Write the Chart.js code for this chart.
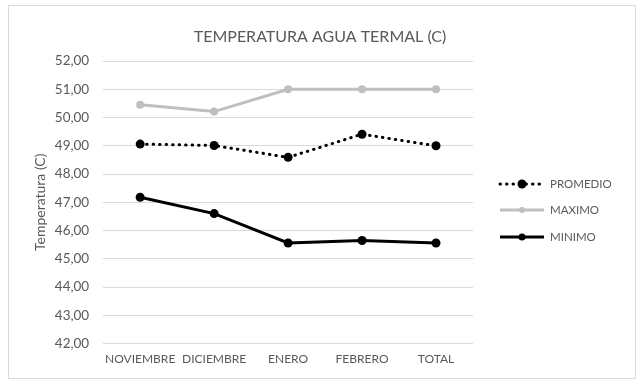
<!DOCTYPE html>
<html><head><meta charset="utf-8">
<script src="https://cdn.jsdelivr.net/npm/chart.js@4/dist/chart.umd.min.js"></script>
<style>html,body{margin:0;padding:0;background:#fff}#wrap{position:relative;width:641px;height:388px}</style>
</head><body><div id="wrap"><canvas id="c" width="641" height="388"></canvas></div>
<script>
const categories = ['NOVIEMBRE', 'DICIEMBRE', 'ENERO', 'FEBRERO', 'TOTAL'];
const promedio = [49.06, 49.01, 48.59, 49.41, 49.0];
const maximo = [50.45, 50.21, 51.0, 51.0, 51.0];
const minimo = [47.18, 46.6, 45.56, 45.65, 45.56];
const seriesNames = ['PROMEDIO', 'MAXIMO', 'MINIMO'];
const yMin = 42, yMax = 52, yStep = 1;
const titleText = 'TEMPERATURA AGUA TERMAL (C)';
const yTitle = 'Temperatura (C)';

const FONT = 'Lato, "Open Sans", sans-serif';
const TXT = '#595959';

const frame = {
  id: 'frame',
  beforeDraw(chart) {
    const ctx = chart.ctx;
    ctx.save();
    ctx.fillStyle = '#fff';
    ctx.fillRect(0, 0, chart.width, chart.height);
    ctx.strokeStyle = '#d9d9d9';
    ctx.lineWidth = 1;
    ctx.strokeRect(8.5, 5.5, 627, 373);
    ctx.fillStyle = TXT;
    ctx.font = '16px ' + FONT;
    ctx.textAlign = 'center';
    ctx.textBaseline = 'middle';
    ctx.fillText(titleText, 320, 37);
    ctx.restore();
  }
};

const legendPlugin = {
  id: 'customLegend',
  afterDraw(chart) {
    const ctx = chart.ctx;
    const x0 = 500, x1 = 544, ys = [184, 210, 237];
    chart.data.datasets.forEach((ds, i) => {
      const y = ys[i];
      ctx.save();
      ctx.strokeStyle = ds.borderColor;
      ctx.lineWidth = ds.borderWidth;
      ctx.lineCap = ds.borderCapStyle || 'butt';
      ctx.setLineDash(ds.borderDash || []);
      ctx.beginPath();
      ctx.moveTo(x0, y);
      ctx.lineTo(x1, y);
      ctx.stroke();
      ctx.setLineDash([]);
      ctx.fillStyle = ds.pointBackgroundColor;
      ctx.beginPath();
      ctx.arc((x0 + x1) / 2, y, ds.pointRadius - (i === 0 ? 0 : 1), 0, Math.PI * 2);
      ctx.fill();
      ctx.fillStyle = TXT;
      ctx.font = '11.5px ' + FONT;
      ctx.textBaseline = 'middle';
      ctx.fillText(ds.label, x1 + 6, y);
      ctx.restore();
    });
  }
};

new Chart(document.getElementById('c'), {
  type: 'line',
  data: {
    labels: categories,
    datasets: [
      { label: seriesNames[0], data: promedio, borderColor: '#000', backgroundColor: '#000',
        borderWidth: 3, borderDash: [0.5, 6], borderCapStyle: 'round',
        pointRadius: 4.5, pointBackgroundColor: '#000', pointBorderWidth: 0, tension: 0 },
      { label: seriesNames[1], data: maximo, borderColor: '#bfbfbf', backgroundColor: '#bfbfbf',
        borderWidth: 3, pointRadius: 4, pointBackgroundColor: '#bfbfbf', pointBorderWidth: 0, tension: 0 },
      { label: seriesNames[2], data: minimo, borderColor: '#000', backgroundColor: '#000',
        borderWidth: 3, pointRadius: 4.5, pointBackgroundColor: '#000', pointBorderWidth: 0, tension: 0 }
    ]
  },
  options: {
    responsive: false,
    animation: false,
    devicePixelRatio: 1,
    layout: { padding: { left: 38, right: 168, top: 61, bottom: 14 } },
    plugins: {
      legend: { display: false },
      tooltip: { enabled: false },
      title: { display: false }
    },
    scales: {
      x: {
        offset: true,
        grid: { display: false, drawTicks: false },
        border: { display: false },
        ticks: { color: TXT, font: { family: FONT, size: 12 }, padding: 8, maxRotation: 0, autoSkip: false }
      },
      y: {
        min: yMin, max: yMax,
        grid: { color: '#d9d9d9', lineWidth: 1, drawTicks: false },
        border: { display: false },
        ticks: { stepSize: yStep, color: TXT, font: { family: FONT, size: 13.5 }, padding: 14,
          callback: v => v.toFixed(2).replace('.', ',') },
        title: { display: true, text: yTitle, color: TXT, font: { family: FONT, size: 14 }, padding: { top: -6, bottom: -8 } }
      }
    }
  },
  plugins: [frame, legendPlugin]
});
</script>
</body></html>
